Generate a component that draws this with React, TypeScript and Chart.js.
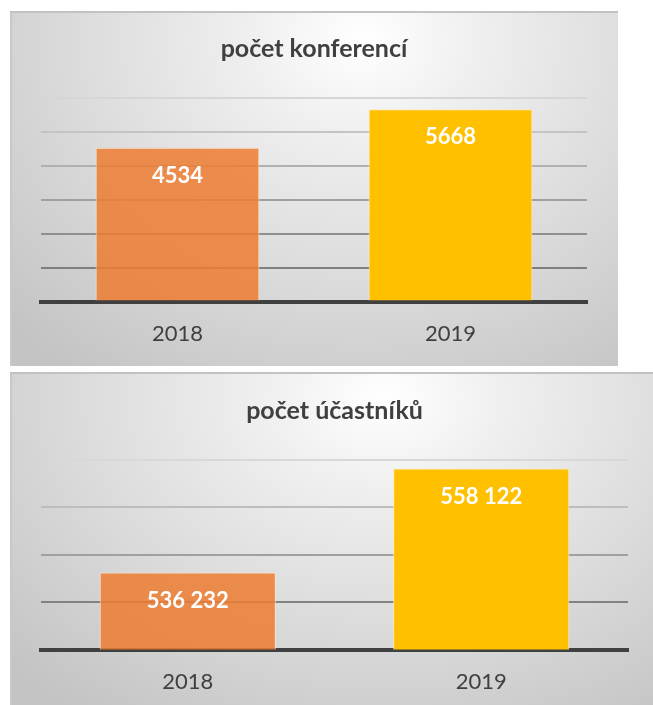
import { useEffect, useRef } from "react";
import { Chart, registerables } from "chart.js";

Chart.register(...registerables);

// ---- data ----
const categories = ["2018", "2019"];
const conferenceValues = [4534, 5668];
const participantValues = [536232, 558122];
const conferenceAxis = [0, 6000, 1000]; // min, max, step
const participantAxis = [520000, 560000, 10000]; // min, max, step
const conferenceTitle = "počet konferencí";
const participantTitle = "počet účastníků";

const barColors = ["rgba(237,125,49,0.85)", "#FFC000"];
const barBorders = ["rgba(255,228,205,0.9)", "rgba(255,236,170,1)"];

const fmtPlain = (v: number) => String(v);
const fmtSpaced = (v: number) =>
  String(v).replace(/\B(?=(\d{3})+(?!\d))/g, " ");

type Cfg = {
  width: number;
  height: number;
  title: string;
  values: number[];
  axis: number[];
  gridColors: string[];
  fmt: (v: number) => string;
  padLeft: number;
  padRight: number;
  padBottom: number;
  titleTop: number;
  titleBottom: number;
};

const dataLabelPlugin = {
  id: "dataLabels",
  afterDatasetsDraw(chart: any, _args: any, opts: any) {
    const ctx = chart.ctx;
    const meta = chart.getDatasetMeta(0);
    const ds = chart.data.datasets[0];
    ctx.save();
    ctx.fillStyle = "#ffffff";
    ctx.font = "bold 22px Lato";
    ctx.textAlign = "center";
    ctx.textBaseline = "middle";
    meta.data.forEach((bar: any, i: number) => {
      ctx.fillText(opts.fmt(ds.data[i]), bar.x, bar.y + 28);
    });
    ctx.restore();
  },
};

function BarPanel({ cfg }: { cfg: Cfg }) {
  const ref = useRef<HTMLCanvasElement | null>(null);
  useEffect(() => {
    if (!ref.current) return;
    const chart = new Chart(ref.current, {
      type: "bar",
      data: {
        labels: categories,
        datasets: [
          {
            data: cfg.values,
            backgroundColor: barColors,
            borderColor: barBorders,
            borderWidth: 1,
            borderSkipped: "bottom",
            barPercentage: 1,
            categoryPercentage: 0.6,
          },
        ],
      },
      options: {
        animation: false,
        responsive: false,
        events: [],
        layout: {
          padding: {
            left: cfg.padLeft,
            right: cfg.padRight,
            top: 0,
            bottom: cfg.padBottom,
          },
        },
        plugins: {
          legend: { display: false },
          tooltip: { enabled: false },
          title: {
            display: true,
            text: cfg.title,
            color: "#404040",
            font: { family: "Lato", size: 25, weight: "bold", lineHeight: 1.2 },
            padding: { top: cfg.titleTop, bottom: cfg.titleBottom },
          },
          dataLabels: { fmt: cfg.fmt },
        } as any,
        scales: {
          x: {
            z: 1,
            grid: { display: false, drawTicks: false },
            border: { display: true, color: "#404040", width: 4 },
            ticks: {
              color: "#404040",
              font: { family: "Lato", size: 22 },
              padding: 19,
            },
          },
          y: {
            min: cfg.axis[0],
            max: cfg.axis[1],
            ticks: { display: false, stepSize: cfg.axis[2] },
            border: { display: false },
            grid: {
              drawTicks: false,
              lineWidth: 2,
              color: (c: any) => cfg.gridColors[c.index] || "#cccccc",
            },
          },
        },
      },
      plugins: [dataLabelPlugin],
    });
    return () => chart.destroy();
  }, [cfg]);
  return (
    <canvas
      ref={ref}
      width={cfg.width}
      height={cfg.height}
      style={{ display: "block", width: cfg.width, height: cfg.height }}
    />
  );
}

const panelBg =
  "radial-gradient(ellipse 80% 115% at 58% 8%, #ffffff 0%, #f0f0f0 22%, #dcdcdc 58%, #c4c4c4 100%)";

const topCfg: Cfg = {
  width: 608,
  height: 355,
  title: conferenceTitle,
  values: conferenceValues,
  axis: conferenceAxis,
  gridColors: ["#404040", "#7f7f7f", "#8f8f8f", "#a0a0a0", "#b0b0b0", "#c4c4c4", "#d6d6d6"],
  fmt: fmtPlain,
  padLeft: 31,
  padRight: 31,
  padBottom: 0,
  titleTop: 23,
  titleBottom: 34,
};

const bottomCfg: Cfg = {
  width: 643,
  height: 333,
  title: participantTitle,
  values: participantValues,
  axis: participantAxis,
  gridColors: ["#404040", "#828282", "#a0a0a0", "#bdbdbd", "#d8d8d8"],
  fmt: fmtSpaced,
  padLeft: 31,
  padRight: 25,
  padBottom: -9,
  titleTop: 24,
  titleBottom: 33.5,
};

export default function App() {
  return (
    <div
      style={{
        position: "fixed",
        left: 0,
        top: 0,
        width: 653,
        height: 705,
        background: "#ffffff",
        overflow: "hidden",
      }}
    >
      <div
        style={{
          position: "absolute",
          left: 10,
          top: 11,
          width: 608,
          height: 355,
          background: panelBg,
          boxShadow: "inset 0 2px 0 #c2c2c2, inset 2px 0 0 #c8c8c8",
        }}
      >
        <BarPanel cfg={topCfg} />
      </div>
      <div
        style={{
          position: "absolute",
          left: 10,
          top: 372,
          width: 643,
          height: 333,
          background: panelBg,
          boxShadow: "inset 0 2px 0 #c2c2c2, inset 2px 0 0 #c8c8c8",
        }}
      >
        <BarPanel cfg={bottomCfg} />
      </div>
    </div>
  );
}
